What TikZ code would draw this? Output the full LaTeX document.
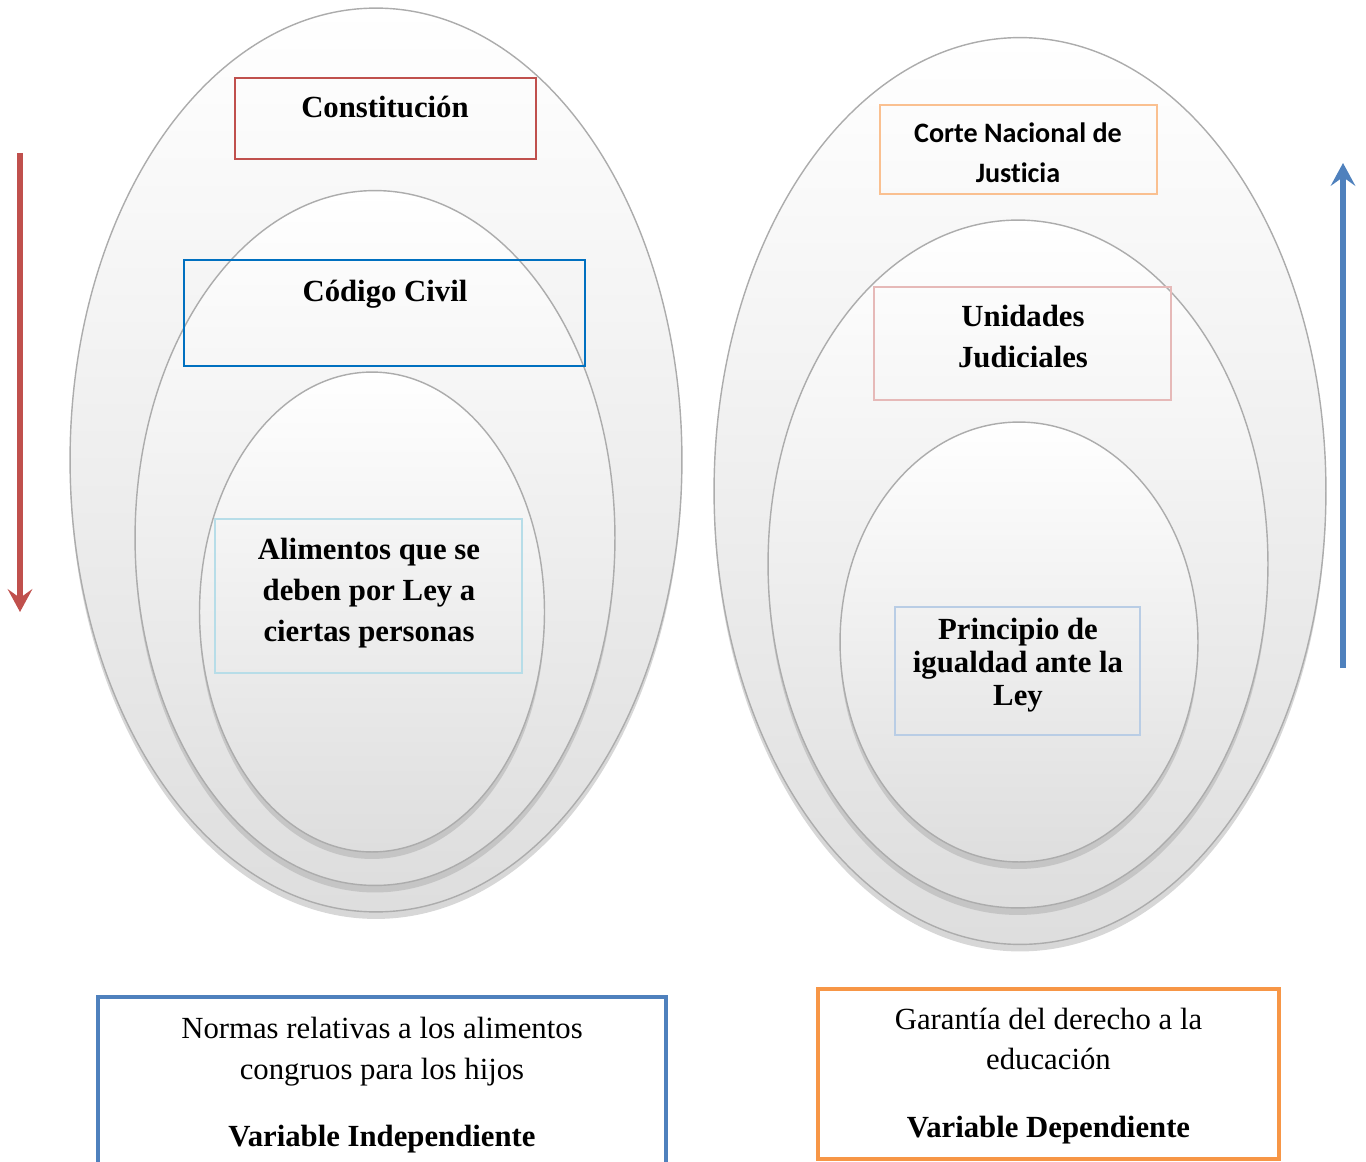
\documentclass[tikz,border=0pt]{standalone}
\usepackage{fontspec}
\setmainfont{Liberation Serif}
\newfontfamily\calibri[Ligatures=NoCommon]{Carlito}
\usetikzlibrary{shapes.geometric,shadows,arrows.meta}
\definecolor{rojo}{HTML}{C0504D}
\definecolor{azul}{HTML}{4F81BD}
\definecolor{celeste}{HTML}{0070C0}
\definecolor{cian}{HTML}{B7DDE8}
\definecolor{naranja}{HTML}{F79646}
\definecolor{durazno}{HTML}{FAC090}
\definecolor{rosa}{HTML}{E6B9B8}
\definecolor{lila}{HTML}{B9CDE5}
\tikzset{
  capa/.style={ellipse, inner sep=0pt, draw=gray!65, line width=.8pt, top color=white,
    middle color=gray!5, bottom color=gray!26,
    drop shadow={shadow xshift=0pt, shadow yshift=-4pt, fill=gray!70, opacity=.45}},
  caja/.style={rectangle, inner sep=0pt, line width=.7pt},
  marco/.style={rectangle, inner sep=0pt, line width=2.3pt},
  titulo/.style={font=\fontsize{17.5}{23.2}\selectfont\bfseries, align=center},
  texto/.style={font=\fontsize{17.5}{23.2}\selectfont, align=center},
  flecha/.style={line width=3.2pt, -{Stealth[length=13pt,width=14pt,inset=5pt]}}
}
\begin{document}
\begin{tikzpicture}[x=0.02cm,y=-0.02cm]
  \useasboundingbox (0,0) rectangle (1366,1162);
  %
  \node[capa, minimum width=12.24cm, minimum height=18.08cm] (izqa) at (376,460) {};
  \node[capa, minimum width=9.6cm, minimum height=13.9cm] (izqb) at (375,538) {};
  \node[capa, minimum width=6.9cm, minimum height=9.6cm] (izqc) at (372,612) {};
  %
  \node[capa, minimum width=12.24cm, minimum height=18.14cm] (dera) at (1020,491) {};
  \node[capa, minimum width=10cm, minimum height=13.76cm] (derb) at (1018,564) {};
  \node[capa, minimum width=7.16cm, minimum height=8.8cm] (derc) at (1019,642) {};
  %
  \node[caja, draw=rojo, minimum width=6.02cm, minimum height=1.62cm] (constitucion) at (385.5,118.5) {};
  \node[caja, draw=celeste, line width=1.2pt, minimum width=8.02cm, minimum height=2.12cm] (codigo) at (384.5,313) {};
  \node[caja, draw=cian, minimum width=6.14cm, minimum height=3.08cm] (alimentos) at (368.5,596) {};
  \node[caja, draw=durazno, minimum width=5.54cm, minimum height=1.78cm] (corte) at (1018.5,149.5) {};
  \node[caja, draw=rosa, minimum width=5.94cm, minimum height=2.26cm] (unidades) at (1022.5,343.5) {};
  \node[caja, draw=lila, minimum width=4.9cm, minimum height=2.56cm] (principio) at (1017.5,671) {};
  %
  \node[titulo] (tconstitucion) at (385,107) {Constitución};
  \node[titulo] (tcodigo) at (385,294) {Código Civil};
  \node[titulo] (talimentos) at (369,593) {Alimentos que se\\deben por Ley a\\ciertas personas};
  \node[titulo, font=\fontsize{16}{22.7}\selectfont\bfseries\calibri] (tcorte) at (1018,153) {Corte Nacional de\\Justicia};
  \node[titulo] (tunidades) at (1023,336.5) {Unidades\\Judiciales};
  \node[titulo, font=\fontsize{17.5}{18.7}\selectfont\bfseries] (tprincipio) at (1018,665) {Principio de\\igualdad ante la\\Ley};
  %
  \node[marco, draw=azul, minimum width=11.36cm, minimum height=3.52cm] (independiente) at (382,1085) {};
  \node[marco, draw=naranja, minimum width=9.22cm, minimum height=3.4cm] (dependiente) at (1048.5,1074) {};
  \node[texto] (tnormas) at (382,1051.5) {Normas relativas a los alimentos\\congruos para los hijos};
  \node[titulo] (tvi) at (382,1139) {Variable Independiente};
  \node[texto] (tgarantia) at (1048.5,1039) {Garantía del derecho a la\\educación};
  \node[titulo] (tvd) at (1048.5,1130) {Variable Dependiente};
  %
  \coordinate (rojoini) at (20,153);
  \coordinate (rojofin) at (20,612);
  \coordinate (azulini) at (1343,668);
  \coordinate (azulfin) at (1343,163);
  \draw[flecha, draw=rojo] (rojoini) -- (rojofin);
  \draw[flecha, draw=azul] (azulini) -- (azulfin);
\end{tikzpicture}
\end{document}
